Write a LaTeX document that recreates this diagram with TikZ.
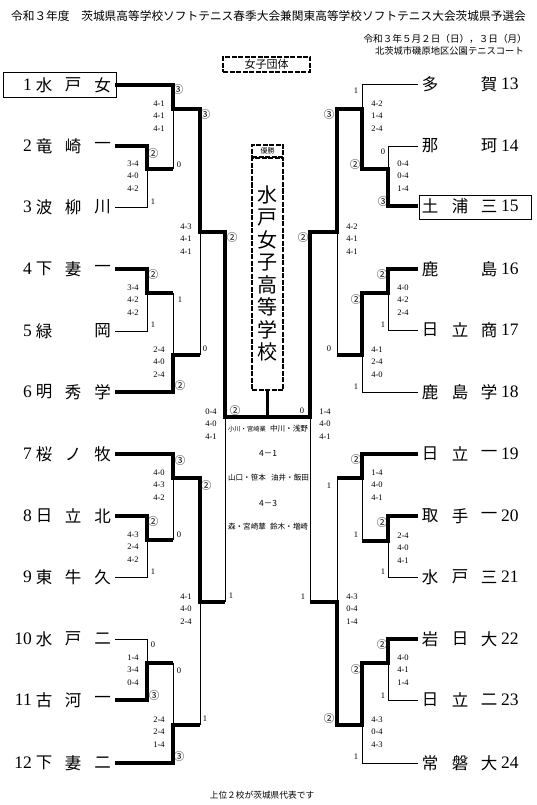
\documentclass[tikz,border=0pt]{standalone}
\usepackage{fontspec}
\setmainfont{Liberation Serif}
\newfontfamily\jp{Noto Sans CJK JP}
\usetikzlibrary{positioning}

\begin{document}
\begin{tikzpicture}[x=1pt,y=-1pt,
    thin line/.style={line width=0.8pt},
    win line/.style={line width=3.6pt},
    teamname/.style={inner sep=0pt,font=\jp\fontsize{16.5}{16.5}\selectfont},
    teamnum/.style={inner sep=0pt,font=\fontsize{17.5}{17.5}\selectfont},
    scores/.style={inner sep=0pt,align=center,font=\fontsize{8.5}{12.3}\selectfont},
    circled/.style={inner sep=0pt,font=\jp\fontsize{10.5}{10.5}\selectfont},
    digit/.style={inner sep=0pt,font=\fontsize{8.5}{8.5}\selectfont},
    pairs/.style={inner sep=0pt,font=\jp\fontsize{7.6}{7.6}\selectfont},
    dashbox/.style={draw,line width=1.3pt,dash pattern=on 5pt off 1.5pt,inner sep=0pt},
  ]
  \useasboundingbox (0,0) rectangle (537,805);

  % header
  \node[inner sep=0pt,font=\jp\fontsize{11.7}{11.7}\selectfont] (title) at (268.5,16) {令和３年度　茨城県高等学校ソフトテニス春季大会兼関東高等学校ソフトテニス大会茨城県予選会};
  \node[inner sep=0pt,anchor=east,font=\jp\fontsize{9.6}{9.6}\selectfont] (date) at (527,39) {令和３年５月２日（日），３日（月）};
  \node[inner sep=0pt,anchor=east,font=\jp\fontsize{9.3}{9.3}\selectfont] (venue) at (524,51) {北茨城市磯原地区公園テニスコート};
  \node[dashbox,minimum width=87pt,minimum height=15pt,font=\jp\fontsize{11}{11}\selectfont] (division) at (266.5,64.5) {女子団体};
  \node[inner sep=0pt,font=\jp\fontsize{8.7}{8.7}\selectfont] (note) at (262,795) {上位２校が茨城県代表です};

  % champion
  \node[dashbox,minimum width=31pt,minimum height=12pt,font=\jp\fontsize{7}{7}\selectfont] (yusho) at (267.5,151) {優勝};
  \node[dashbox,minimum width=31pt,minimum height=232pt] (champ) at (267.5,274) {};
  \foreach \c [count=\i] in {水,戸,女,子,高,等,学,校}
    \node[inner sep=0pt,font=\jp\fontsize{20}{20}\selectfont] (champ\i) at (267.5,195+22.4*\i-22.4) {\c};

  % teams
  \foreach \y/\n/\a/\b/\c in {85/1/水/戸/女,146/2/竜/崎/一,207/3/波/柳/川,269/4/下/妻/一,331/5/緑//岡,392/6/明/秀/学,454/7/桜/ノ/牧,516/8/日/立/北,577/9/東/牛/久,639/10/水/戸/二,700/11/古/河/一,763/12/下/妻/二}{
    \node[teamnum,anchor=east] (ln\n) at (32,\y) {\n};
    \node[teamname] (la\n) at (44,\y) {\a};
    \node[teamname] (lb\n) at (73,\y) {\b};
    \node[teamname] (lc\n) at (102.5,\y) {\c};
  }
  \foreach \y/\n/\a/\b/\c in {84/13/多//賀,146/14/那//珂,206/15/土/浦/三,269/16/鹿//島,330/17/日/立/商,392/18/鹿/島/学,454/19/日/立/一,516/20/取/手/一,577/21/水/戸/三,639/22/岩/日/大,700/23/日/立/二,763/24/常/磐/大}{
    \node[teamname] (ra\n) at (430,\y) {\a};
    \node[teamname] (rb\n) at (460,\y) {\b};
    \node[teamname] (rc\n) at (489,\y) {\c};
    \node[teamnum,anchor=west] (rn\n) at (501,\y) {\n};
  }
  \draw[line width=0.9pt] (3,72) rectangle (116,97);
  \draw[line width=0.9pt] (419,195) rectangle (531,219);

  % left bracket
  \draw[thin line] (173,109) -- (173,169);
  \draw[thin line] (115,207) -| (147,169);
  \draw[thin line] (173,293) -- (173,355);
  \draw[thin line] (115,331) -| (147,293);
  \draw[thin line] (200,355) -- (200,232);
  \draw[thin line] (225,602) -- (225,417);
  \draw[thin line] (173,540) -- (173,478);
  \draw[thin line] (115,577) -| (147,540);
  \draw[thin line] (115,639) -| (147,663);
  \draw[thin line] (173,663) -- (173,725);
  \draw[thin line] (200,725) -- (200,602);
  \draw[win line] (115,85) -| (173,109) -| (200,232) -| (225,417) -| (champ.south);
  \draw[win line] (115,146) -| (147,169) -- (173,169);
  \draw[win line] (115,269) -| (147,293) -- (173,293);
  \draw[win line] (115,392) -| (173,355) -- (200,355);
  \draw[win line] (115,454) -| (173,478) -| (200,602) -- (225,602);
  \draw[win line] (115,516) -| (147,540) -- (173,540);
  \draw[win line] (115,700) -| (147,663) -- (173,663);
  \draw[win line] (115,763) -| (173,725) -- (200,725);

  % right bracket
  \draw[thin line] (418,84) -| (362,109);
  \draw[thin line] (418,146) -| (388,169);
  \draw[thin line] (337,355) -- (337,232);
  \draw[thin line] (418,330) -| (388,293);
  \draw[thin line] (418,392) -| (362,355);
  \draw[thin line] (337,478) -- (337,602);
  \draw[thin line] (362,541) -- (362,478);
  \draw[thin line] (418,577) -| (388,541);
  \draw[thin line] (310,602) -- (310,417);
  \draw[thin line] (418,700) -| (388,663);
  \draw[thin line] (418,763) -| (362,725);
  \draw[win line] (418,206) -| (388,169) -| (362,109) -| (337,232) -| (310,417) -- (champ.south |- 0,417);
  \draw[win line] (418,269) -| (388,293) -| (362,355) -- (337,355);
  \draw[win line] (418,454) -| (362,478) -- (337,478);
  \draw[win line] (418,516) -| (388,541) -- (362,541);
  \draw[win line] (418,639) -| (388,663) -| (362,725) -| (337,602) -- (310,602);

  % game scores
  \foreach \x/\j/\a/\b/\c in {173/109/4-1/4-1/4-1,147/169/3-4/4-0/4-2,200/232/4-3/4-1/4-1,147/293/3-4/4-2/4-2,173/355/2-4/4-0/2-4,225/417/0-4/4-0/4-1,173/478/4-0/4-3/4-2,147/540/4-3/2-4/4-2,200/602/4-1/4-0/2-4,147/663/1-4/3-4/0-4,173/725/2-4/2-4/1-4}
    \node[scores] at (\x-14,\j+7) {\a\\\b\\\c};
  \foreach \x/\j/\a/\b/\c in {362/109/4-2/1-4/2-4,388/169/0-4/0-4/1-4,337/232/4-2/4-1/4-1,388/293/4-0/4-2/2-4,362/355/4-1/2-4/4-0,310/417/1-4/4-0/4-1,362/478/1-4/4-0/4-1,388/541/2-4/4-0/4-1,337/602/4-3/0-4/1-4,388/663/4-0/4-1/1-4,362/725/4-3/0-4/4-3}
    \node[scores] at (\x+15,\j+7) {\a\\\b\\\c};

  % match results
  \foreach \x/\y/\r in {178/90/③,153/154/②,205/115/③,232/238/②,153/275/②,180/386/②,235/411/②,180/461/③,206/486/②,153/522/②,154/696/③,179/757/③,329/115/③,355/165/②,383/202/③,303/238/②,382/275/②,356/300/②,356/460/②,382/523/②,382/645/②,356/670/②,329/719/②}
    \node[circled] at (\x,\y) {\r};
  \foreach \x/\y/\r in {179/165/0,153/202/1,180/300/1,153/325/1,205/349/0,179/535/0,153/572/1,231/596/1,153/645/0,179/671/0,205/719/1,356/91/1,383/152/0,383/325/1,329/349/0,356/387/1,302/411/0,329/486/1,356/535/1,383/572/1,303/597/1,383/696/1,356/757/1}
    \node[digit] at (\x,\y) {\r};

  % final details
  \node[pairs,font=\jp\fontsize{6.3}{6.3}\selectfont] (p1l) at (247,429) {小川・宮崎業};
  \node[pairs] (p1r) at (289,429) {中川・浅野};
  \node[pairs,font=\jp\fontsize{8.5}{8.5}\selectfont] (g1) at (268,453) {4－1};
  \node[pairs] (p2l) at (247,478) {山口・笹本};
  \node[pairs] (p2r) at (290,478) {油井・飯田};
  \node[pairs,font=\jp\fontsize{8.5}{8.5}\selectfont] (g2) at (268,503) {4－3};
  \node[pairs] (p3l) at (247,527) {森・宮崎華};
  \node[pairs] (p3r) at (289,527) {鈴木・増崎};
\end{tikzpicture}
\end{document}
